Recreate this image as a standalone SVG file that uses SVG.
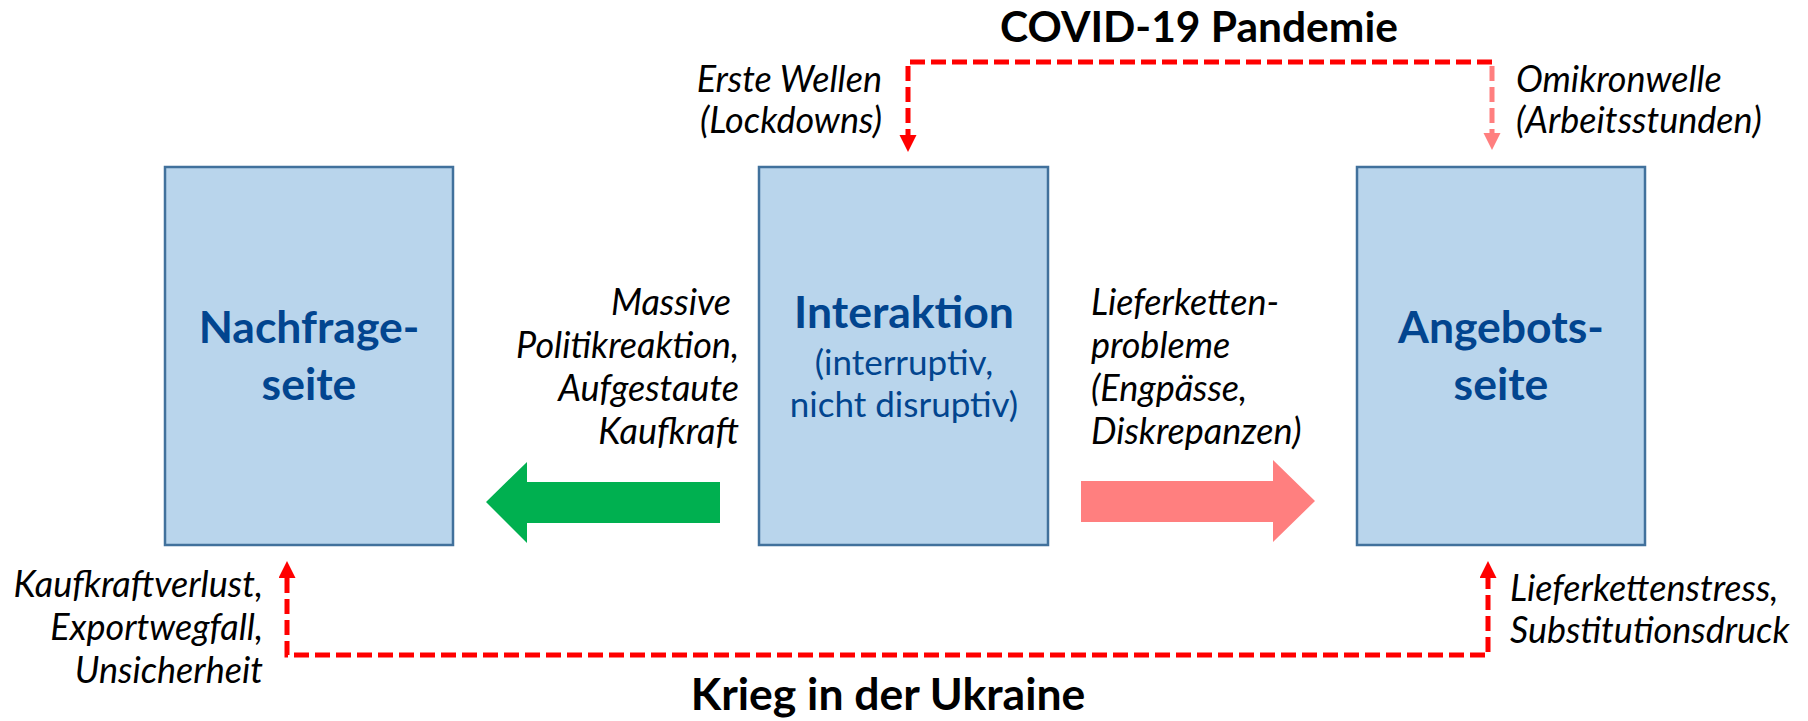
<svg xmlns="http://www.w3.org/2000/svg" width="1808" height="721" viewBox="0 0 1808 721">
<style>
.box{fill:#B9D5EC;stroke:#41719C;stroke-width:2.5}
.bt{font-family:Lato,"Liberation Sans",sans-serif;font-weight:bold;font-size:44.5px;fill:#02458F;text-anchor:middle}
.bs{font-family:Lato,"Liberation Sans",sans-serif;font-size:35px;fill:#02458F;text-anchor:middle}
.lab{font-family:Lato,"Liberation Sans",sans-serif;font-style:italic;font-size:36px;fill:#000}
.r{text-anchor:end}
.title{font-family:Lato,"Liberation Sans",sans-serif;font-weight:bold;fill:#000;text-anchor:middle}
.dash{fill:none;stroke-width:5;stroke-dasharray:15 6}
</style>
<defs>
<marker id="ahRed" markerUnits="userSpaceOnUse" markerWidth="18" markerHeight="18" refX="0" refY="8.5" orient="auto-start-reverse" viewBox="0 0 18 18">
<path d="M0,0 L17,8.5 L0,17 Z" fill="#FF0000"/>
</marker>
<marker id="ahPink" markerUnits="userSpaceOnUse" markerWidth="18" markerHeight="18" refX="0" refY="8.5" orient="auto" viewBox="0 0 18 18">
<path d="M0,0 L17,8.5 L0,17 Z" fill="#FF7F7F"/>
</marker>
</defs>
<rect width="1808" height="721" fill="#FFFFFF"/>

<g id="nachfrage">
<rect class="box" x="165" y="167" width="288" height="378"/>
<text class="bt" x="309" y="343">Nachfrage-</text>
<text class="bt" x="309" y="400">seite</text>
</g>

<g id="interaktion">
<rect class="box" x="759" y="167" width="289" height="378"/>
<text class="bt" x="904" y="328">Interaktion</text>
<text class="bs" x="904" y="375">(interruptiv,</text>
<text class="bs" x="904" y="417">nicht disruptiv)</text>
</g>

<g id="angebot">
<rect class="box" x="1357" y="167" width="288" height="378"/>
<text class="bt" x="1501" y="343">Angebots-</text>
<text class="bt" x="1501" y="400">seite</text>
</g>

<g id="connectors">
<polygon points="720,482 527,482 527,462 486,502 527,543 527,523 720,523" fill="#00B050"/>
<polygon points="1081,481 1273,481 1273,460 1315,501 1273,542 1273,522 1081,522" fill="#FF7F7F"/>
<path class="dash" d="M1492,62 H908 V135" stroke="#FF0000" marker-end="url(#ahRed)"/>
<path class="dash" d="M1492,66 V133" stroke="#FF7F7F" marker-end="url(#ahPink)"/>
<path class="dash" d="M287,578 V655 H1488 V578" stroke="#FF0000" marker-start="url(#ahRed)" marker-end="url(#ahRed)"/>
</g>

<g id="labels">
<text class="title" x="1199" y="42" font-size="42.5">COVID-19 Pandemie</text>
<text class="title" x="888" y="710" font-size="44.5">Krieg in der Ukraine</text>

<text class="lab r" x="882" y="92">Erste Wellen</text>
<text class="lab r" x="882" y="133">(Lockdowns)</text>

<text class="lab" x="1516" y="92">Omikronwelle</text>
<text class="lab" x="1516" y="133">(Arbeitsstunden)</text>

<text class="lab r" x="731" y="315">Massive</text>
<text class="lab r" x="739" y="358">Politikreaktion,</text>
<text class="lab r" x="739" y="401">Aufgestaute</text>
<text class="lab r" x="739" y="444">Kaufkraft</text>

<text class="lab" x="1091" y="315">Lieferketten-</text>
<text class="lab" x="1091" y="358">probleme</text>
<text class="lab" x="1091" y="401">(Engpässe,</text>
<text class="lab" x="1091" y="444">Diskrepanzen)</text>

<text class="lab r" x="263" y="597">Kaufkraftverlust,</text>
<text class="lab r" x="263" y="640">Exportwegfall,</text>
<text class="lab r" x="263" y="683">Unsicherheit</text>

<text class="lab" x="1510" y="601">Lieferkettenstress,</text>
<text class="lab" x="1510" y="643">Substitutionsdruck</text>
</g>
</svg>
